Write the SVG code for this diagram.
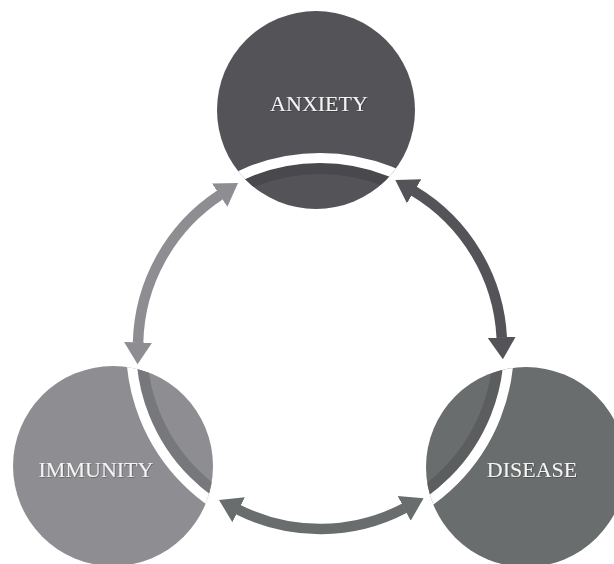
<svg xmlns="http://www.w3.org/2000/svg" width="614" height="564" viewBox="0 0 614 564">
  <style>
    .label { font-family: "Liberation Serif", "Times New Roman", serif; font-size: 22px; fill: #f4f4f4; text-anchor: middle; filter: url(#shadow); }
    .gap { fill: none; stroke: #ffffff; stroke-width: 10; }
    .band { fill: none; stroke-width: 11; }
    .shaft { fill: none; stroke-width: 10.5; }
  </style>
  <defs>
    <filter id="shadow" x="-10%" y="-30%" width="120%" height="160%">
      <feDropShadow dx="0.6" dy="0.6" stdDeviation="0.5" flood-color="#000000" flood-opacity="0.4"/>
    </filter>
    <clipPath id="clipA"><circle cx="316" cy="110" r="99"/></clipPath>
    <clipPath id="clipI"><circle cx="113" cy="466" r="100"/></clipPath>
    <clipPath id="clipD"><circle cx="526" cy="467" r="100"/></clipPath>
    <marker id="headI" markerUnits="userSpaceOnUse" viewBox="0 -15 24 30" markerWidth="24" markerHeight="30" refX="0.5" refY="0" orient="auto-start-reverse">
      <path d="M0,-14 L22,0 L0,14 Z" fill="#8e8e92"/>
    </marker>
    <marker id="headA" markerUnits="userSpaceOnUse" viewBox="0 -15 24 30" markerWidth="24" markerHeight="30" refX="0.5" refY="0" orient="auto-start-reverse">
      <path d="M0,-14 L22,0 L0,14 Z" fill="#535358"/>
    </marker>
    <marker id="headD" markerUnits="userSpaceOnUse" viewBox="0 -15 24 30" markerWidth="24" markerHeight="30" refX="0.5" refY="0" orient="auto-start-reverse">
      <path d="M0,-14 L22,0 L0,14 Z" fill="#6a6d6d"/>
    </marker>
  </defs>

  <g id="node-anxiety">
    <circle cx="316" cy="110" r="99" fill="#535358"/>
    <g clip-path="url(#clipA)">
      <circle class="band" cx="320" cy="347" r="178.5" stroke="#48484d"/>
      <circle class="gap" cx="320" cy="347" r="189"/>
    </g>
    <text class="label" x="319" y="111">ANXIETY</text>
  </g>

  <g id="node-immunity">
    <circle cx="113" cy="466" r="100" fill="#8e8e92"/>
    <g clip-path="url(#clipI)">
      <circle class="band" cx="320" cy="347" r="178.5" stroke="#77787b"/>
      <circle class="gap" cx="320" cy="347" r="189"/>
    </g>
    <text class="label" x="96" y="477">IMMUNITY</text>
  </g>

  <g id="node-disease">
    <circle cx="526" cy="467" r="100" fill="#6a6d6d"/>
    <g clip-path="url(#clipD)">
      <circle class="band" cx="320" cy="347" r="178.5" stroke="#5b5d5e"/>
      <circle class="gap" cx="320" cy="347" r="189"/>
    </g>
    <text class="label" x="532" y="477">DISEASE</text>
  </g>

  <g id="connectors">
    <path class="shaft" d="M138.05,342.87 A182,182 0 0 1 220.08,194.88" stroke="#8e8e92" marker-start="url(#headI)" marker-end="url(#headI)"/>
    <path class="shaft" d="M413.74,191.0 A182,182 0 0 1 501.77,337.79" stroke="#535358" marker-start="url(#headA)" marker-end="url(#headA)"/>
    <path class="shaft" d="M404.6,508.14 A182,182 0 0 1 238.22,509.59" stroke="#6a6d6d" marker-start="url(#headD)" marker-end="url(#headD)"/>
  </g>
</svg>
